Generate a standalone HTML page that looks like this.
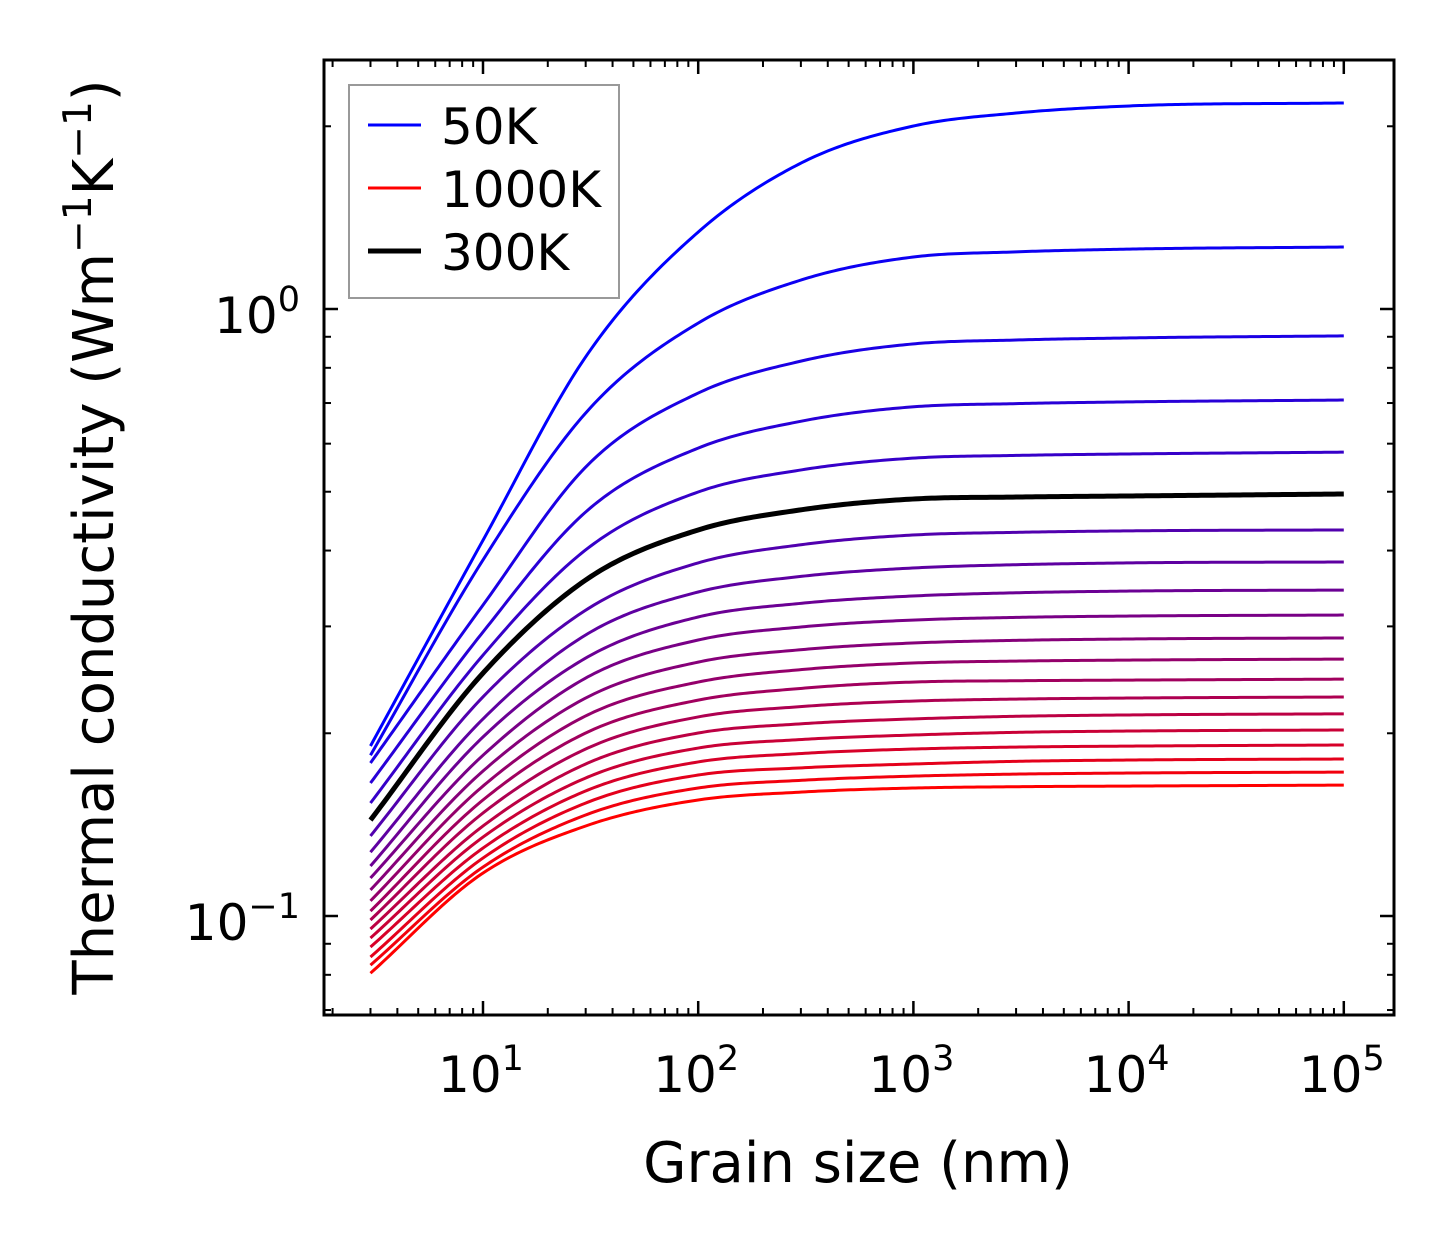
<!DOCTYPE html>
<html><head><meta charset="utf-8"><style>
html,body{margin:0;padding:0;background:#fff}
svg text{font-family:"DejaVu Sans","Liberation Sans",sans-serif;fill:#000}
</style></head><body>
<svg id="chart" width="1454" height="1254" viewBox="0 0 1454 1254" xmlns="http://www.w3.org/2000/svg">
<rect width="1454" height="1254" fill="#fff"/>
<g id="curves"></g>
<g id="ticks"></g>
<rect x="324" y="60" width="1070" height="955" fill="none" stroke="#000" stroke-width="3"/>
<g id="labels"></g>
<text x="858" y="1182" font-size="56" text-anchor="middle">Grain size (nm)</text>
<text transform="translate(113,537) rotate(-90)" font-size="56" text-anchor="middle">Thermal conductivity (Wm<tspan font-size="39" dy="-22">−1</tspan><tspan dy="22">K</tspan><tspan font-size="39" dy="-22">−1</tspan><tspan dy="22">)</tspan></text>
<g>
<rect x="349" y="85" width="270" height="213" fill="#fff" stroke="#999" stroke-width="2"/>
<line x1="368" y1="125" x2="421" y2="125" stroke="#0000ff" stroke-width="3"/>
<text x="441" y="144" font-size="50">50K</text>
<line x1="368" y1="188" x2="421" y2="188" stroke="#ff0000" stroke-width="3"/>
<text x="441" y="207" font-size="50">1000K</text>
<line x1="368" y1="251" x2="421" y2="251" stroke="#000" stroke-width="5"/>
<text x="441" y="270" font-size="50">300K</text>
</g>
</svg>
<script>
const grainSizes = [3, 10, 30, 100, 300, 1000, 3000, 10000, 100000];
const temperatures = [50,100,150,200,250,300,350,400,450,500,550,600,650,700,750,800,850,900,950,1000];
const k50 = [0.1906,0.416,0.834,1.339,1.739,2.002,2.103,2.160,2.185];
const k100 = [0.184,0.386,0.674,0.948,1.116,1.218,1.242,1.255,1.265];
const k150 = [0.1787,0.3253,0.549,0.727,0.8206,0.876,0.889,0.896,0.903];
const k200 = [0.1656,0.2937,0.463,0.590,0.6532,0.690,0.6984,0.703,0.708];
const k250 = [0.1535,0.269,0.401,0.4995,0.543,0.568,0.5738,0.577,0.581];
const k300 = [0.1439,0.2513,0.3577,0.4325,0.4668,0.4864,0.490,0.492,0.4957];
const k350 = [0.1355,0.2296,0.319,0.3817,0.4089,0.4243,0.4286,0.431,0.4325];
const k400 = [0.1274,0.2112,0.2904,0.3418,0.3626,0.3744,0.3791,0.3817,0.383];
const k450 = [0.1209,0.1972,0.266,0.3109,0.3274,0.3367,0.3408,0.343,0.3443];
const k500 = [0.1155,0.184,0.2466,0.2849,0.2993,0.3073,0.3104,0.312,0.3132];
const k550 = [0.1104,0.1733,0.2286,0.262,0.2746,0.2817,0.2845,0.286,0.2871];
const k600 = [0.1059,0.1637,0.2136,0.2429,0.2546,0.2611,0.263,0.264,0.265];
const k650 = [0.1019,0.1553,0.2002,0.2268,0.2371,0.2429,0.2441,0.2447,0.2456];
const k700 = [0.0985,0.1478,0.1884,0.2128,0.2213,0.226,0.2277,0.2286,0.2295];
const k750 = [0.0952,0.1407,0.178,0.2002,0.2073,0.2112,0.2133,0.2144,0.2153];
const k800 = [0.092,0.1349,0.1688,0.1891,0.1953,0.1987,0.2007,0.2017,0.2025];
const k850 = [0.0889,0.1294,0.1607,0.1794,0.1852,0.1884,0.1898,0.1905,0.1913];
const k900 = [0.0856,0.1246,0.1535,0.1707,0.1754,0.178,0.1798,0.1807,0.1814];
const k950 = [0.0830,0.1204,0.1467,0.1625,0.1673,0.17,0.1713,0.172,0.1726];
const k1000 = [0.0805,0.1177,0.1407,0.1553,0.16,0.1625,0.1633,0.1637,0.1643];
const xTickLabels = ["1","2","3","4","5"];
const yTickLabels = ["−1","0"];

const series = [k50,k100,k150,k200,k250,k300,k350,k400,k450,k500,k550,k600,k650,k700,k750,k800,k850,k900,k950,k1000];
const NS = "http://www.w3.org/2000/svg";
const X0 = 483, XD = 215.2, Y0 = 309, YD = 607;
function xPos(v){ return X0 + (Math.log10(v) - 1) * XD; }
function yPos(v){ return Y0 - Math.log10(v) * YD; }

// smooth cubic Hermite interpolation in log-log space
function smooth(xs, ys){
  const n = xs.length, d = [], h = [], m = new Array(n);
  for (let i=0;i<n-1;i++){ h.push(xs[i+1]-xs[i]); d.push((ys[i+1]-ys[i])/h[i]); }
  m[0]=d[0]; m[n-1]=d[n-2];
  for (let i=1;i<n-1;i++){
    let v = (h[i]*d[i-1] + h[i-1]*d[i])/(h[i-1]+h[i]);
    const lim = 3*Math.min(Math.abs(d[i-1]), Math.abs(d[i]));
    if (d[i-1]*d[i] <= 0) v = 0; else if (Math.abs(v) > lim) v = Math.sign(v)*lim;
    m[i]=v;
  }
  return function(x){
    let i=0; while (i<n-2 && x>xs[i+1]) i++;
    const hh=h[i], t=(x-xs[i])/hh, t2=t*t, t3=t2*t;
    return (2*t3-3*t2+1)*ys[i] + (t3-2*t2+t)*hh*m[i] + (-2*t3+3*t2)*ys[i+1] + (t3-t2)*hh*m[i+1];
  };
}

const gC = document.getElementById('curves');
const lx = grainSizes.map(Math.log10);
const order = series.map((_,i)=>i).filter(i=>i!==5).concat([5]);
order.forEach(i => {
  const f = smooth(lx, series[i].map(Math.log10));
  const a = lx[0], b = lx[lx.length-1], N = 300;
  let d = '';
  for (let j=0;j<=N;j++){
    const L = a + (b-a)*j/N;
    const v = Math.pow(10, f(L));
    d += (j?'L':'M') + xPos(Math.pow(10,L)).toFixed(2) + ',' + yPos(v).toFixed(2);
  }
  const p = document.createElementNS(NS,'path');
  p.setAttribute('d', d);
  p.setAttribute('fill','none');
  const t = i/19;
  const col = (i===5) ? '#000' : `rgb(${Math.round(255*t)},0,${Math.round(255*(1-t))})`;
  p.setAttribute('stroke', col);
  p.setAttribute('stroke-width', i===5 ? 5 : 3);
  p.setAttribute('stroke-linejoin', 'round');
  
  
  gC.appendChild(p);
});

// ticks
const gT = document.getElementById('ticks');
const L=324, R=1394, T=60, B=1015;
function tick(x1,y1,x2,y2,w,name){
  const l = document.createElementNS(NS,'line');
  l.setAttribute('x1',x1); l.setAttribute('y1',y1); l.setAttribute('x2',x2); l.setAttribute('y2',y2);
  l.setAttribute('stroke','#000'); l.setAttribute('stroke-width',w);
  
  
  gT.appendChild(l);
}
for (let e=0;e<=5;e++){
  for (let m=1;m<=9;m++){
    const v = m*Math.pow(10,e), x = xPos(v);
    if (x < L+1 || x > R-1) continue;
    const len = m===1 ? 14 : 7, w = m===1 ? 2.5 : 2;
    tick(x,B,x,B-len,w,'x-tick');
    tick(x,T,x,T+len,w,'x-tick-top');
  }
}
for (let e=-2;e<=0;e++){
  for (let m=1;m<=9;m++){
    const v = m*Math.pow(10,e), y = yPos(v);
    if (y < T+1 || y > B-1) continue;
    const len = m===1 ? 14 : 7, w = m===1 ? 2.5 : 2;
    tick(L,y,L+len,y,w,'y-tick');
    tick(R,y,R-len,y,w,'y-tick-right');
  }
}

// labels
const gL = document.getElementById('labels');
xTickLabels.forEach((s,i) => {
  const t = document.createElementNS(NS,'text');
  t.setAttribute('x', xPos(Math.pow(10, Number(s))) - 2);
  t.setAttribute('y', 1092);
  t.setAttribute('font-size', 50);
  t.setAttribute('text-anchor','middle');
  
  
  t.innerHTML = '10<tspan font-size="35" dy="-22">' + s + '</tspan>';
  gL.appendChild(t);
});
yTickLabels.forEach((s,i) => {
  const t = document.createElementNS(NS,'text');
  t.setAttribute('x', 300);
  t.setAttribute('y', yPos(Math.pow(10, Number(s.replace('−','-')))) + 24);
  t.setAttribute('font-size', 50);
  t.setAttribute('text-anchor','end');
  
  
  t.innerHTML = '10<tspan font-size="35" dy="-22">' + s + '</tspan>';
  gL.appendChild(t);
});
</script>
</body></html>
